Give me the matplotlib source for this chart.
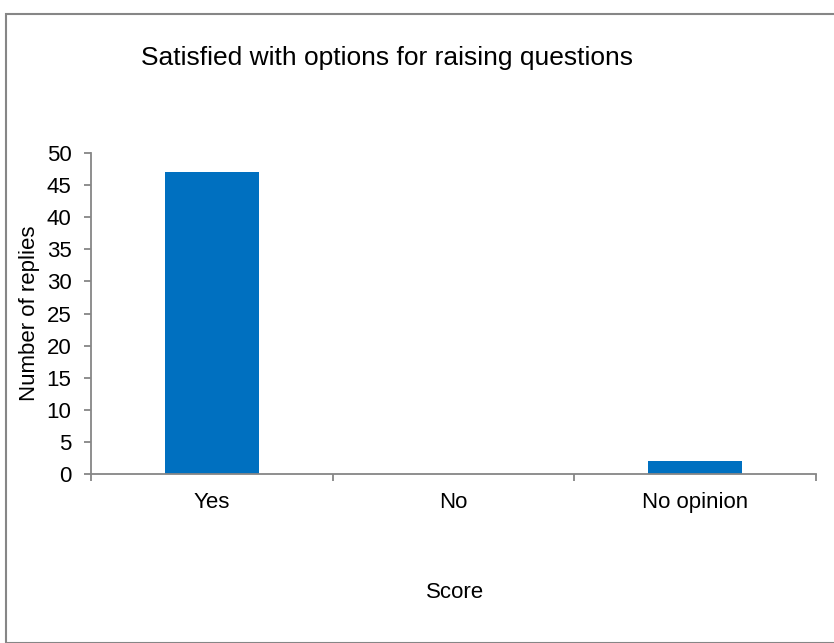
import numpy as np
import matplotlib.pyplot as plt
from matplotlib.patches import Rectangle

categories = ['Yes', 'No', 'No opinion']
replies = [47, 0, 2]
yticks = list(range(0, 55, 5))

plt.rcParams['font.family'] = ['Liberation Sans', 'DejaVu Sans']

fig = plt.figure(figsize=(8.34, 6.43), dpi=100)
ax = fig.add_axes([0.1091, 0.2628, 0.8693, 0.4992])

# рамка вокруг графика
fig.patches.append(Rectangle((5.5 / 834, 0), 2, 1 - 13.5 / 643, transform=fig.transFigure,
                             fill=False, edgecolor='#868686', linewidth=1.5))

x = np.arange(len(categories))
ax.bar(x, replies, width=0.39, color='#0070C0')

ax.set_xlim(-0.5, len(categories) - 0.5)
ax.set_ylim(0, 50)
ax.set_yticks(yticks)
ax.set_xticks(x)
ax.set_xticklabels(categories, fontsize=16)
ax.set_xticks(np.arange(-0.5, len(categories)), minor=True)
ax.tick_params(axis='x', which='major', length=0, pad=13)
ax.tick_params(axis='x', which='minor', length=5, color='#868686', width=1.3)
ax.tick_params(axis='y', length=5, color='#868686', width=1.3, labelsize=16, pad=9)

for s in ['top', 'right']:
    ax.spines[s].set_visible(False)
for s in ['left', 'bottom']:
    ax.spines[s].set_color('#868686')
    ax.spines[s].set_linewidth(1.3)

# подписи осей и заголовок
fig.text(30 / 834, 1 - 313 / 643, 'Number of replies', fontsize=16,
         rotation=90, ha='center', va='center')
fig.text(455 / 834, 1 - 592 / 643, 'Score', fontsize=16, ha='center', va='center')
fig.text(387 / 834, 1 - 58 / 643, 'Satisfied with options for raising questions',
         fontsize=19, ha='center', va='center')

fig.savefig('out.png', dpi=100)
